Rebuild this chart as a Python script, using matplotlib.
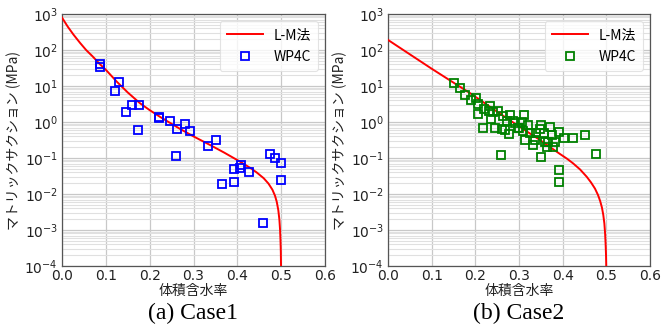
import numpy as np
import matplotlib
matplotlib.use("Agg")
import matplotlib.pyplot as plt
from matplotlib.ticker import LogLocator

plt.rcParams['font.family'] = ['Noto Sans CJK JP', 'DejaVu Sans']
plt.rcParams['axes.unicode_minus'] = False

# Case1 : L-M curve (theta, log10 of suction in MPa)
curve1_theta = [0.0, 0.013, 0.026, 0.041, 0.055, 0.07, 0.087, 0.10, 0.125, 0.15, 0.178, 0.20,
                0.224, 0.25, 0.269, 0.30, 0.338, 0.37, 0.406, 0.43, 0.444, 0.46, 0.471, 0.48,
                0.486, 0.49, 0.4935, 0.496, 0.4975, 0.4985, 0.4992, 0.4997]
curve1_log = [2.9, 2.65, 2.43, 2.2, 2.0, 1.82, 1.6, 1.45, 1.12, 0.82, 0.52, 0.33,
              0.14, -0.05, -0.19, -0.4, -0.64, -0.85, -1.1, -1.28, -1.40, -1.56, -1.71, -1.88,
              -2.05, -2.22, -2.45, -2.72, -3.0, -3.3, -3.6, -4.0]

# Case1 : WP4C measurements
wp1_theta = [0.087, 0.086, 0.122, 0.130, 0.146, 0.159, 0.176, 0.173, 0.222, 0.221, 0.246, 0.262,
             0.260, 0.280, 0.292, 0.334, 0.351, 0.365, 0.392, 0.393, 0.405, 0.408, 0.427, 0.458,
             0.475, 0.486, 0.500, 0.500]
wp1_psi = [40, 34, 7.3, 12.6, 1.9, 3.0, 3.0, 0.6, 1.3, 1.4, 1.06, 0.64,
           0.117, 0.86, 0.55, 0.22, 0.32, 0.019, 0.048, 0.021, 0.053, 0.062, 0.040, 0.0016,
           0.128, 0.10, 0.072, 0.025]

# Case2 : L-M curve
curve2_theta = [0.0, 0.07, 0.10, 0.188, 0.234, 0.264, 0.30, 0.348, 0.394, 0.41, 0.424, 0.44,
                0.455, 0.465, 0.474, 0.481, 0.486, 0.49, 0.493, 0.4955, 0.4972, 0.4984, 0.4993,
                0.4998]
curve2_log = [2.28, 1.72, 1.48, 0.80, 0.42, 0.17, -0.12, -0.5, -0.89, -1.02, -1.15, -1.32,
              -1.52, -1.68, -1.85, -2.03, -2.2, -2.38, -2.58, -2.82, -3.1, -3.4, -3.7,
              -4.0]

# Case2 : WP4C measurements
wp2_theta = [0.151, 0.166, 0.176, 0.189, 0.202, 0.207, 0.205, 0.217, 0.220, 0.234, 0.232, 0.235,
             0.240, 0.245, 0.253, 0.259, 0.260, 0.264, 0.268, 0.272, 0.278, 0.279, 0.287, 0.291,
             0.298, 0.301, 0.306, 0.312, 0.310, 0.314, 0.321, 0.325, 0.333, 0.337, 0.340, 0.347,
             0.350, 0.350, 0.357, 0.360, 0.363, 0.370, 0.367, 0.375, 0.382, 0.379, 0.392, 0.392,
             0.392, 0.404, 0.423, 0.451, 0.476]
wp2_psi = [12.3, 8.8, 5.6, 4.1, 4.6, 3.2, 1.7, 0.69, 2.3, 2.8, 2.0, 1.2,
           1.95, 0.66, 2.0, 0.12, 0.63, 1.5, 0.60, 1.05, 0.47, 1.55, 1.1, 0.91,
           0.7, 0.66, 1.0, 1.6, 0.57, 0.32, 0.83, 0.49, 0.23, 0.32, 0.50, 0.63,
           0.83, 0.11, 0.49, 0.28, 0.20, 0.74, 0.28, 0.44, 0.28, 0.20, 0.54, 0.047,
           0.022, 0.36, 0.37, 0.44, 0.13]

xticks = [0.0, 0.1, 0.2, 0.3, 0.4, 0.5, 0.6]
xlabel = '体積含水率'
ylabel = 'マトリックサクション (MPa)'

fig = plt.figure(figsize=(6.69, 3.31), dpi=100)
ax1 = fig.add_axes([62/669, 65/331, 263/669, 252/331])
ax2 = fig.add_axes([388/669, 65/331, 262/669, 252/331])

panels = [(ax1, curve1_theta, curve1_log, wp1_theta, wp1_psi, 'blue', '(a) Case1'),
          (ax2, curve2_theta, curve2_log, wp2_theta, wp2_psi, 'green', '(b) Case2')]

for ax, ct, cl, wt, wp, col, cap in panels:
    ax.plot(ct, np.power(10.0, cl), color='red', lw=1.4, label='L-M法', zorder=3)
    ax.plot(wt, wp, ls='none', marker='s', ms=5.5, mfc='none', mec=col, mew=1.3,
            label='WP4C', zorder=4)
    ax.set_yscale('log')
    ax.set_xlim(0, 0.6)
    ax.set_ylim(1e-4, 1e3)
    ax.set_xticks(xticks)
    ax.set_xticklabels(['%.1f' % v for v in xticks])
    ax.yaxis.set_major_locator(LogLocator(base=10, numticks=10))
    ax.yaxis.set_minor_locator(LogLocator(base=10, subs=np.arange(2, 10), numticks=20))
    ax.grid(True, which='major', color='#c8c8c8', lw=0.9)
    ax.grid(True, which='minor', axis='y', color='#e0e0e0', lw=0.8)
    ax.set_axisbelow(True)
    for s in ax.spines.values():
        s.set_color('#555555')
        s.set_linewidth(0.9)
    ax.tick_params(which='both', length=0, labelsize=10, colors='#222222', pad=2)
    ax.tick_params(axis='y', pad=3)
    for lab in ax.get_xticklabels() + ax.get_yticklabels():
        lab.set_family('DejaVu Sans')
    ax.set_xlabel(xlabel, fontsize=10, color='#222222', labelpad=1)
    ax.set_ylabel(ylabel, fontsize=10, color='#222222', labelpad=2)
    leg = ax.legend(loc='upper right', fontsize=10, frameon=True, borderpad=0.5,
                    handlelength=2.6, labelspacing=0.6)
    leg.get_frame().set_edgecolor('#dddddd')
    leg.get_frame().set_linewidth(0.8)
    ax.text(0.5, -0.19, cap, transform=ax.transAxes, ha='center', va='center',
            fontsize=17, family='Liberation Serif')

fig.savefig('out.png', dpi=100)
